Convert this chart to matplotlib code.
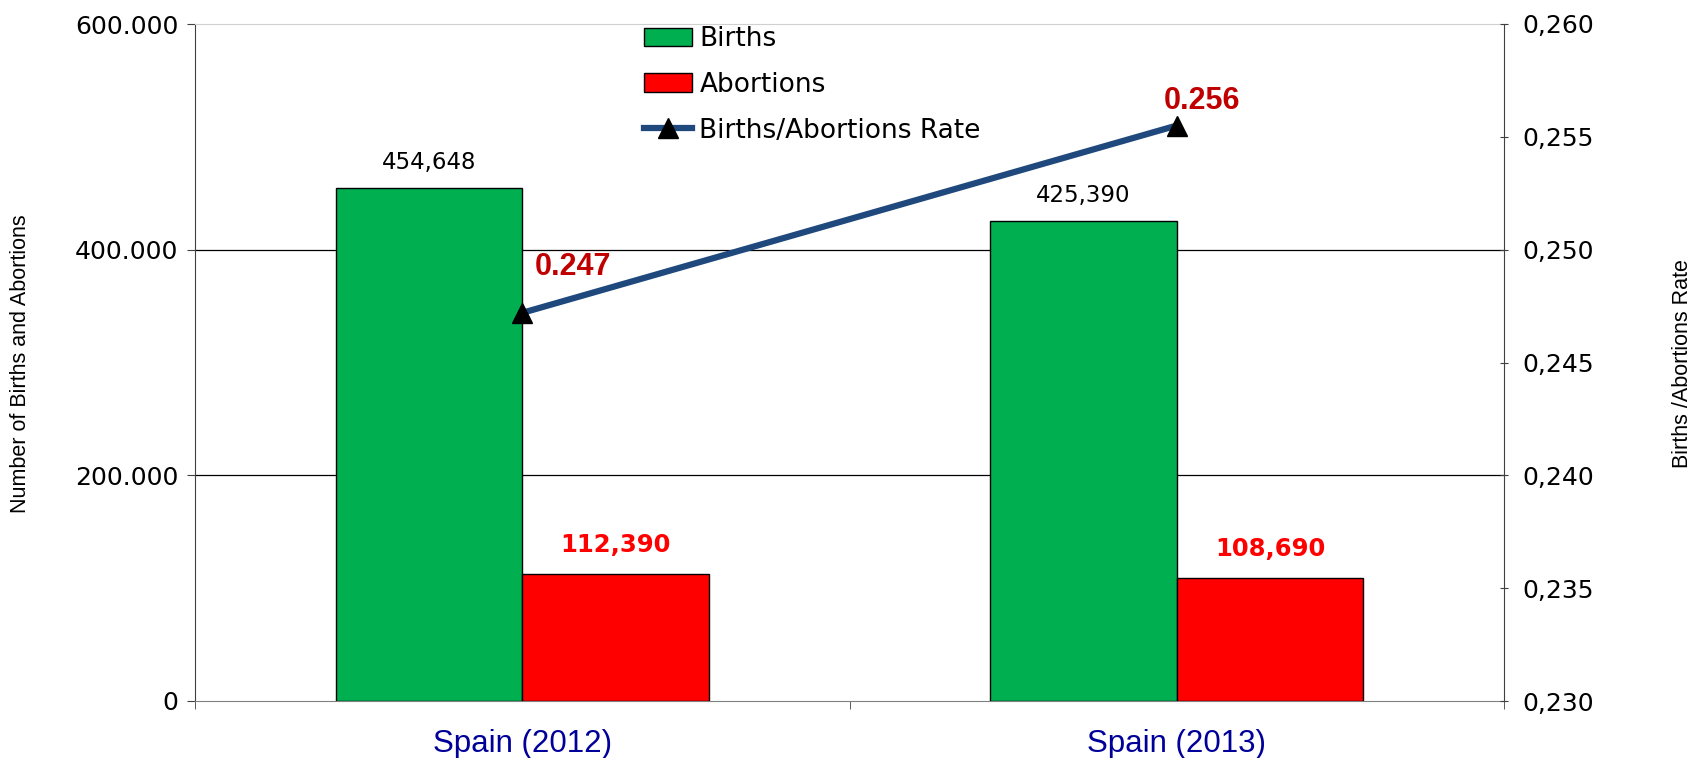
import numpy as np
import matplotlib
matplotlib.use("Agg")
import matplotlib.pyplot as plt
from matplotlib.ticker import FuncFormatter

# data
categories = ["Spain (2012)", "Spain (2013)"]
births = [454648, 425390]
abortions = [112390, 108690]
rate = [0.2472, 0.2555]
rate_labels = ["0.247", "0.256"]

plt.rcParams['font.family'] = ['DejaVu Sans']
narrow = ['Liberation Sans Narrow', 'Liberation Sans', 'DejaVu Sans']
arial = ['Liberation Sans', 'DejaVu Sans']

W, H = 1697, 758
fig = plt.figure(figsize=(W / 100, H / 100), dpi=100)
ax = fig.add_axes([195 / W, 1 - 701 / H, (1504 - 195) / W, (701 - 24) / H])

x = np.arange(len(categories))
w = 0.285
b1 = ax.bar(x - w/2, births, w, color='#00B050', edgecolor='black', linewidth=1, label='Births', zorder=3)
b2 = ax.bar(x + w/2, abortions, w, color='#FF0000', edgecolor='black', linewidth=1, label='Abortions', zorder=3)

for xi, v in zip(x - w/2, births):
    ax.text(xi, v + 12000, f"{v:,}", ha='center', va='bottom', fontsize=16.5, color='black')
for xi, v in zip(x + w/2, abortions):
    ax.text(xi, v + 15000, f"{v:,}", ha='center', va='bottom', fontsize=17.5,
            color='#FF0000', fontweight='bold')

ax.set_ylim(0, 600000)
ax.set_yticks([0, 200000, 400000, 600000])
ax.yaxis.set_major_formatter(FuncFormatter(lambda v, p: f"{int(v):,}".replace(',', '.')))
ax.set_xlim(-0.5, 1.5)
ax.set_xticks(x)
ax.set_xticklabels(categories, fontsize=22.5, color='#000099', family=arial)
ax.tick_params(axis='x', length=0, pad=20)
ax.set_xticks([-0.5, 0.5, 1.5], minor=True)
ax.tick_params(axis='x', which='minor', length=6, direction='out', color='#404040')
ax.tick_params(axis='y', labelsize=18, length=6, direction='out', color='#404040', pad=6)

for yv in [200000, 400000]:
    ax.axhline(yv, color='black', linewidth=0.9, zorder=1)

ax.spines['top'].set_color('#d0d0d0')
ax.spines['left'].set_color('#404040')
ax.spines['bottom'].set_color('#808080')
ax.spines['right'].set_visible(False)

ax2 = ax.twinx()
ln, = ax2.plot(x, rate, color='#1F497D', linewidth=4.5, marker='^', markersize=14,
               markerfacecolor='black', markeredgecolor='black', label='Births/Abortions Rate', zorder=4)
ax2.set_ylim(0.230, 0.260)
ax2.set_yticks(np.arange(0.230, 0.2601, 0.005))
ax2.yaxis.set_major_formatter(FuncFormatter(lambda v, p: f"{v:.3f}".replace('.', ',')))
ax2.tick_params(axis='y', labelsize=18, length=6, direction='inout', color='#404040', pad=10)
ax2.spines['right'].set_color('#404040')
ax2.spines['top'].set_visible(False)
ax2.spines['left'].set_visible(False)
ax2.spines['bottom'].set_visible(False)

ax2.annotate(rate_labels[0], (x[0], rate[0]), xytext=(9, 33), textcoords='offset points',
             fontsize=22, fontweight='bold', color='#C00000', ha='left', va='center', family=arial)
ax2.annotate(rate_labels[1], (x[1], rate[1]), xytext=(18, 18), textcoords='offset points',
             fontsize=22, fontweight='bold', color='#C00000', ha='center', va='center', family=arial)

# axis titles
fig.text(21 / W, 1 - 364 / H, "Number of Births and Abortions", rotation=90,
         ha='center', va='center', fontsize=15.5, family=narrow)
fig.text(1683 / W, 1 - 364 / H, "Births /Abortions Rate", rotation=90,
         ha='center', va='center', fontsize=15.5, family=narrow)

fig.legend([b1, b2, ln], ['Births', 'Abortions', 'Births/Abortions Rate'],
           loc='upper left', bbox_to_anchor=(644 / W, 1 - 26 / H), frameon=False,
           fontsize=19, handlelength=1.8, handleheight=0.7, handletextpad=0.3,
           labelspacing=0.75, borderpad=0, borderaxespad=0)

fig.savefig("out.png", dpi=100)
